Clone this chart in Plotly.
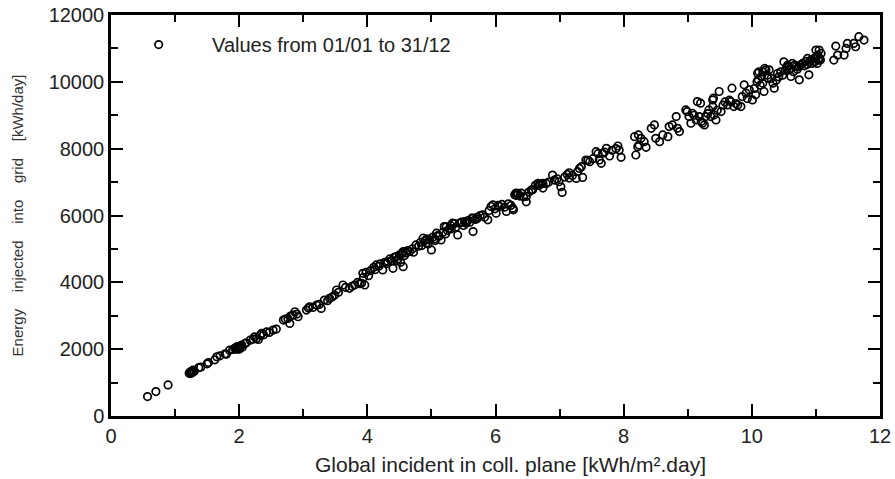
import plotly.graph_objects as go

# Daily values
glob_inc = [
    0.57, 0.70, 0.89,
    1.22, 1.23, 1.24, 1.25, 1.26, 1.28, 1.30, 1.24, 1.27,
    1.37, 1.40, 1.50, 1.52, 1.62, 1.65, 1.70, 1.78, 1.80, 1.85, 1.90, 1.93, 1.95, 1.97, 1.99,
    2.00, 2.02, 2.04, 2.05, 2.09, 2.11, 2.17, 2.22, 2.24, 2.27, 2.30, 2.33, 2.35, 2.38, 2.43,
    2.47, 2.53, 2.58, 2.69, 2.72, 2.76, 2.79, 2.80, 2.84, 2.87, 2.90, 2.92, 1.98, 2.01,
    3.05, 3.08, 3.10, 3.15, 3.21, 3.25, 3.28, 3.33, 3.38, 3.41, 3.45, 3.49, 3.52, 3.55, 3.62,
    3.66, 3.72, 3.76, 3.80, 3.85, 3.88, 3.91, 3.93, 3.94, 3.96, 3.98,
    4.02, 4.05, 4.10, 4.12, 4.14, 4.18, 4.20, 4.24, 4.27, 4.30, 4.32, 4.35, 4.38, 4.40, 4.42,
    4.45, 4.48, 4.50, 4.52, 4.54, 4.56, 4.56, 4.60, 4.63, 4.66, 4.70, 4.72, 4.76, 4.80, 4.83,
    4.87, 4.90, 4.93, 4.95, 4.97, 5.00, 5.02, 5.05, 5.08, 5.10, 5.12, 5.15, 5.18, 5.20, 5.23,
    5.25, 5.28, 5.30, 5.33, 5.36, 5.38, 5.41, 5.44, 5.47, 5.50, 5.54, 5.57, 5.60, 5.63, 5.65,
    5.65, 5.68, 5.72, 5.76, 5.80, 5.83, 5.88, 5.90, 5.93, 5.96, 5.99,
    4.46, 4.58, 4.85, 4.92, 5.06, 5.22, 5.31, 5.52, 5.71,
    6.01, 6.04, 6.06, 6.10, 6.14, 6.17, 6.20, 6.24, 6.27, 6.28, 6.30, 6.32, 6.35, 6.38, 6.40,
    6.44, 6.48, 6.48, 6.52, 6.56, 6.58, 6.62, 6.66, 6.70, 6.74, 6.74, 6.79, 6.83, 6.89, 6.92,
    6.96, 6.99, 7.02, 7.04, 7.08, 7.12, 7.15, 7.15, 7.20, 7.26, 7.28, 7.31, 7.34, 7.36, 7.41,
    7.44, 7.47, 7.52, 7.57, 7.60, 7.62, 7.65, 7.67, 7.70, 7.73, 7.78, 7.82, 7.88, 7.91, 7.93,
    7.96, 6.33, 6.68,
    8.17, 8.19, 8.22, 8.23, 8.24, 8.27, 8.32, 8.35, 8.43, 8.48, 8.50, 8.56, 8.61, 8.69, 8.71,
    8.76, 8.82, 8.84, 8.87, 8.97, 8.99, 9.02, 9.05, 9.07, 9.10, 9.13, 9.15, 9.18, 9.20, 9.21,
    9.23, 9.26, 9.28, 9.31, 9.33, 9.36, 9.39, 9.39, 9.40, 9.41, 9.44, 9.46, 9.49, 9.52, 9.55,
    9.58, 9.62, 9.65, 9.67, 9.69, 9.72, 9.75, 9.78, 9.83, 9.85, 9.88, 9.91, 9.93, 9.96,
    10.01, 10.04, 10.06, 10.08, 10.09, 10.10, 10.11, 10.13, 10.15, 10.17, 10.17, 10.19, 10.20,
    10.22, 10.24, 10.25, 10.27, 10.30, 10.33, 10.35, 10.38, 10.40, 10.42, 10.45, 10.48, 10.50,
    10.52, 10.55, 10.58, 10.60, 10.61, 10.63, 10.65, 10.67, 10.69, 10.71, 10.74, 10.76, 10.79,
    10.82, 10.84, 10.86, 10.89, 10.90, 10.92, 10.94, 10.97, 10.98, 11.00, 11.01, 11.03, 11.04,
    11.05, 11.06, 11.07, 11.08, 10.56, 10.73, 10.87, 11.02,
    11.28, 11.31, 11.34, 11.44, 11.47, 11.49, 11.59, 11.62, 11.67, 11.75,
]
e_grid = [
    580, 730, 930,
    1280, 1300, 1270, 1330, 1290, 1370, 1340, 1320, 1310,
    1450, 1460, 1560, 1600, 1680, 1770, 1800, 1860, 1850, 1970, 1990, 2030, 2000, 2080, 2040,
    2000, 2100, 2120, 2060, 2170, 2190, 2270, 2300, 2370, 2320, 2290, 2420, 2470, 2430, 2520,
    2500, 2570, 2600, 2870, 2900, 2920, 2770, 2990, 3020, 3120, 3050, 2970, 2010, 2050,
    3170, 3230, 3270, 3250, 3320, 3340, 3220, 3470, 3450, 3520, 3560, 3620, 3770, 3700, 3920,
    3850, 3820, 3880, 3920, 4000, 3960, 3970, 4270, 4150, 3920, 4300,
    4200, 4350, 4450, 4380, 4520, 4480, 4550, 4370, 4600, 4560, 4620, 4700, 4650, 4420, 4750,
    4770, 4700, 4820, 4600, 4860, 4470, 4920, 4880, 4950, 4920, 5000, 4900, 5120, 5080, 5200,
    5320, 5250, 5300, 5150, 5270, 4970, 5350, 5300, 5470, 5400, 5380, 5270, 5500, 5670, 5660,
    5550, 5600, 5700, 5770, 5760, 5650, 5420, 5770, 5800, 5700, 5770, 5850, 5800, 5920, 5520,
    5920, 5880, 5950, 6000, 6020, 5950, 5870, 6150, 6270, 6320, 6200,
    4650, 4800, 5100, 5180, 5250, 5450, 5600, 5820, 5900,
    6070, 6300, 6270, 6330, 6250, 6120, 6350, 6300, 6220, 6170, 6620, 6670, 6660, 6580, 6670,
    6560, 6410, 6570, 6700, 6760, 6770, 6900, 6960, 6950, 6820, 6960, 6960, 7000, 7210, 7060,
    7100, 7010, 6860, 6690, 7150, 7230, 7280, 7120, 7200, 7110, 7310, 7410, 7460, 7140, 7660,
    7650, 7610, 7700, 7910, 7850, 7660, 7560, 7860, 7900, 8010, 7780, 7950, 8000, 8080, 7960,
    7740, 6600, 6900,
    8360, 7810, 8060, 8410, 8110, 8310, 8210, 8040, 8610, 8710, 8310, 8210, 8410, 8360, 8660,
    8710, 8960, 8610, 8510, 9160, 9110, 8960, 8760, 9060, 9000, 8860, 9410, 8960, 9360, 8810,
    8760, 8710, 8960, 9050, 9160, 8960, 9460, 9260, 9510, 9010, 8860, 9150, 9710, 9110, 9300,
    9400, 9310, 9450, 9410, 9810, 9260, 9350, 9310, 9260, 9560, 9910, 9660, 9500, 9760,
    9460, 9800, 9610, 10000, 10260, 10060, 10300, 9900, 10150, 9960, 10300, 9710, 10400,
    10360, 10200, 10110, 10360, 10100, 9960, 9810, 10050, 10250, 10150, 10300, 10200, 10600,
    10350, 10450, 10360, 10400, 10160, 10550, 10300, 10500, 10460, 10380, 10060, 10500, 10550,
    10480, 10610, 10520, 10210, 10600, 10650, 10550, 10700, 10600, 10950, 10750, 10800, 10650,
    10950, 10700, 10650, 10850, 10500, 10450, 10700, 10550,
    10650, 11070, 10800, 10800, 11000, 11150, 11150, 11050, 11350, 11250,
]

x_ticks = [0, 2, 4, 6, 8, 10, 12]
y_ticks = [0, 2000, 4000, 6000, 8000, 10000, 12000]

legend_label = "Values from 01/01 to 31/12"
x_title = "Global incident in coll. plane [kWh/m².day]"
gap = " \u00a0\u00a0\u00a0"
y_title = gap.join(["Energy", "injected", "into", "grid", "[kWh/day]"])

font_family = "Liberation Sans, Arial, sans-serif"

fig = go.Figure()
fig.add_trace(go.Scatter(
    x=glob_inc, y=e_grid, mode="markers",
    name="\u00a0\u00a0\u00a0\u00a0\u00a0\u00a0" + legend_label,
    marker=dict(symbol="circle-open", size=7.5, color="black", line=dict(width=1.7, color="black")),
))

axis_common = dict(
    showline=True, linecolor="black", linewidth=2.5, mirror="allticks",
    ticks="inside", ticklen=12, tickwidth=1.5, tickcolor="black",
    showgrid=False, zeroline=False, automargin=False,
    tickfont=dict(size=20, color="#222", family=font_family),
)

fig.update_layout(
    width=895, height=479,
    margin=dict(l=111, r=15, t=15, b=63),
    paper_bgcolor="white", plot_bgcolor="white",
    font=dict(family=font_family, color="#222"),
    showlegend=True,
    legend=dict(x=0.036, y=0.975, xanchor="left", yanchor="top",
                bgcolor="rgba(0,0,0,0)", font=dict(size=20, color="#222")),
    xaxis=dict(range=[0, 12], tickvals=x_ticks, tickformat="d",
               minor=dict(dtick=1, ticks="inside", ticklen=7, tickwidth=1.5, tickcolor="black"),
               **axis_common),
    yaxis=dict(range=[0, 12000], tickvals=y_ticks, tickformat="d",
               minor=dict(dtick=1000, ticks="inside", ticklen=7, tickwidth=1.5, tickcolor="black"),
               title=dict(text=y_title, font=dict(size=15, color="#333"), standoff=22),
               **axis_common),
    annotations=[dict(
        text=x_title, xref="paper", yref="paper", x=0.52, y=-0.122,
        xanchor="center", yanchor="middle", showarrow=False,
        font=dict(size=21, color="#222", family=font_family),
    )],
)

fig.write_html(
    "out.html",
    config={"displayModeBar": False},
    post_script="document.documentElement.style.margin='0';document.body.style.margin='0';document.body.style.overflow='hidden';",
)
